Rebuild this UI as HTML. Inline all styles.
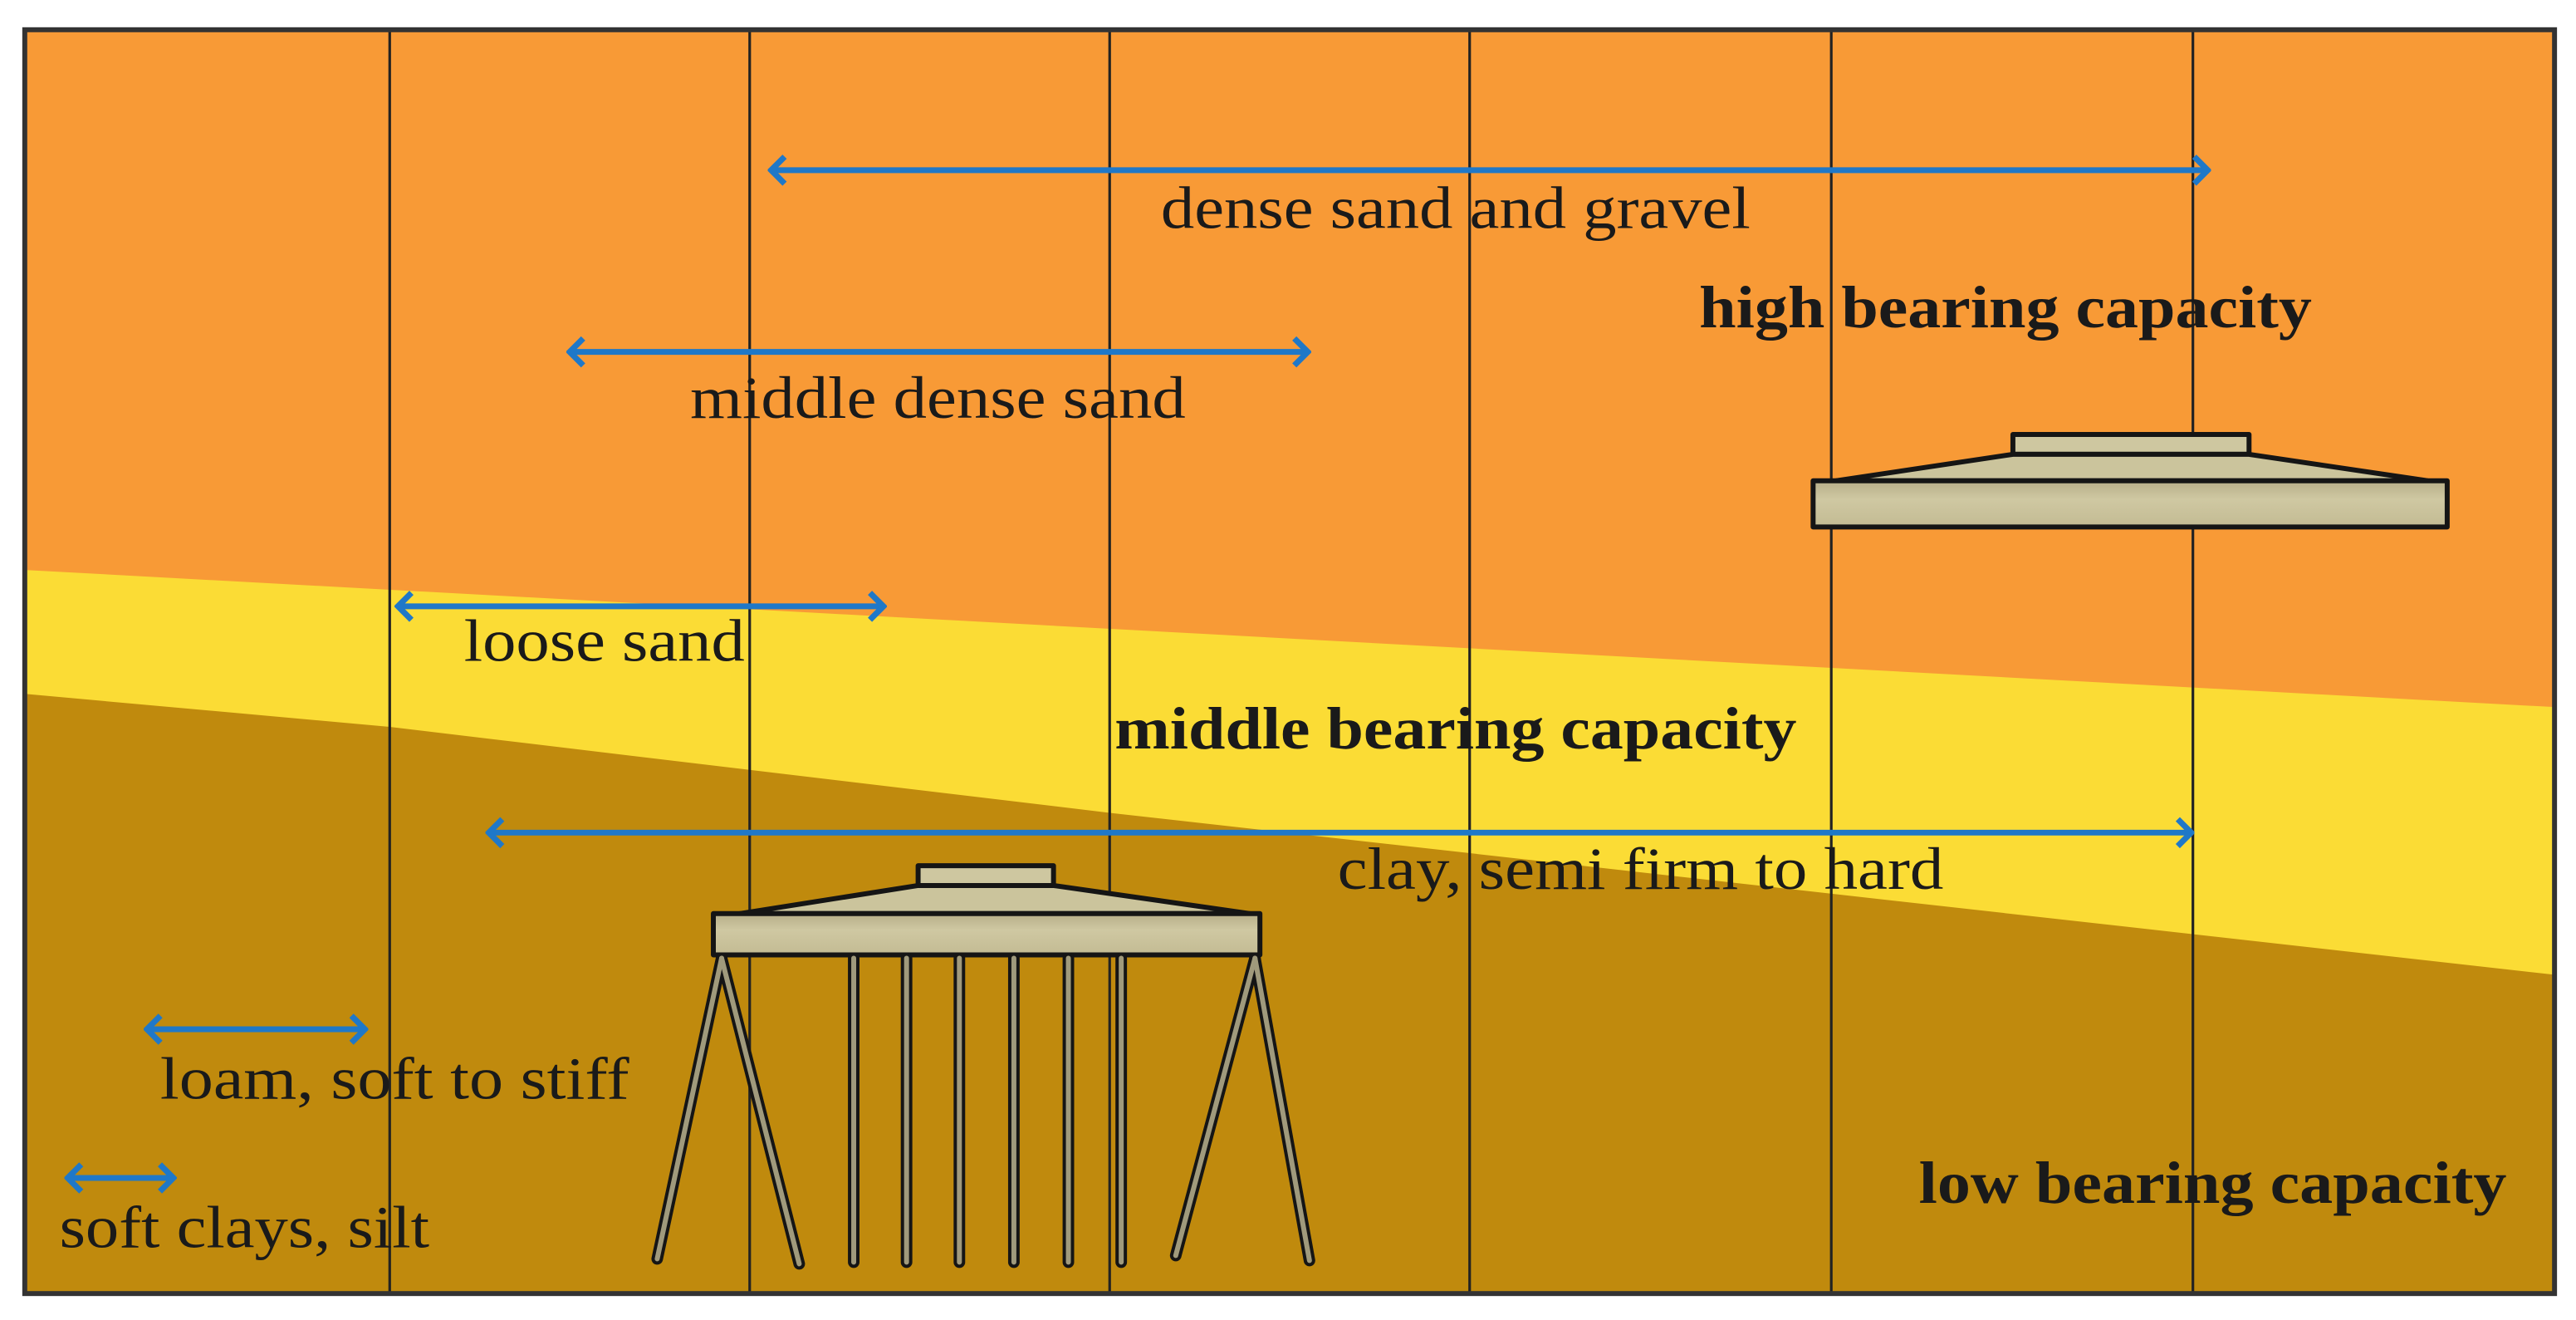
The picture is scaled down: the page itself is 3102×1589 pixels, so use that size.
<!DOCTYPE html>
<html><head><meta charset="utf-8"><style>
html,body{margin:0;padding:0;background:#fff;}
svg{display:block;}
text{font-family:"Liberation Serif",serif;fill:#1a1a1a;}
.b{font-weight:bold;}
</style></head><body>
<svg width="3102" height="1589" viewBox="0 0 1560 799" preserveAspectRatio="none" xmlns="http://www.w3.org/2000/svg">
<defs>
<linearGradient id="slab" x1="0" y1="0" x2="0" y2="1">
<stop offset="0" stop-color="#b6ad88"/><stop offset="0.4" stop-color="#cfc8a2"/><stop offset="1" stop-color="#c3bb93"/>
</linearGradient>
<marker id="ah" viewBox="0 0 12 20" refX="10" refY="10" markerWidth="3.5" markerHeight="6" orient="auto-start-reverse" markerUnits="strokeWidth">
<path d="M2,2 L10,10 L2,18" fill="none" stroke="#1f78c8" stroke-width="3.5" stroke-linejoin="miter"/>
</marker>
</defs>
<rect x="0" y="0" width="1560" height="799" fill="#fff"/>
<rect x="15" y="18" width="1532" height="765" fill="#f89a36"/>
<polygon points="15,345 1547,428 1547,783 15,783" fill="#fbdc35"/>
<polygon points="15,420 236,440 672,492 1547,590 1547,783 15,783" fill="#c08a0d"/>
<g stroke="#222" stroke-width="1.6">
<line x1="236" y1="18" x2="236" y2="783"/><line x1="454" y1="18" x2="454" y2="783"/>
<line x1="672" y1="18" x2="672" y2="783"/><line x1="890" y1="18" x2="890" y2="783"/>
<line x1="1109" y1="18" x2="1109" y2="783"/><line x1="1328" y1="18" x2="1328" y2="783"/>
</g>
<rect x="15" y="18" width="1532" height="765" fill="none" stroke="#333" stroke-width="3"/>
<g stroke="#1f78c8" stroke-width="3.5" fill="none" marker-start="url(#ah)" marker-end="url(#ah)">
<line x1="467" y1="103" x2="1337" y2="103"/>
<line x1="345" y1="213" x2="792" y2="213"/>
<line x1="241" y1="367" x2="535" y2="367"/>
<line x1="296" y1="504" x2="1327" y2="504"/>
<line x1="89" y1="623" x2="221" y2="623"/>
<line x1="41" y1="713" x2="105" y2="713"/>
</g>
<text x="703" y="138" font-size="36" textLength="357" lengthAdjust="spacingAndGlyphs">dense sand and gravel</text>
<text class="b" x="1029" y="198" font-size="36" textLength="371" lengthAdjust="spacingAndGlyphs">high bearing capacity</text>
<text x="418" y="253" font-size="36" textLength="300" lengthAdjust="spacingAndGlyphs">middle dense sand</text>
<text x="281" y="400" font-size="36" textLength="170" lengthAdjust="spacingAndGlyphs">loose sand</text>
<text class="b" x="675" y="453" font-size="36" textLength="413" lengthAdjust="spacingAndGlyphs">middle bearing capacity</text>
<text x="810" y="538" font-size="36" textLength="367" lengthAdjust="spacingAndGlyphs">clay, semi firm to hard</text>
<text x="97" y="665" font-size="36" textLength="284" lengthAdjust="spacingAndGlyphs">loam, soft to stiff</text>
<text x="36" y="755" font-size="36" textLength="224" lengthAdjust="spacingAndGlyphs">soft clays, silt</text>
<text class="b" x="1162" y="728" font-size="36" textLength="356" lengthAdjust="spacingAndGlyphs">low bearing capacity</text>
<g stroke="#151515" stroke-width="3" stroke-linejoin="round">
<rect x="1219" y="263" width="143" height="12" fill="#cec7a0"/>
<polygon points="1112,291 1219,275 1362,275 1470,291" fill="#cbc49c"/>
<rect x="1098" y="291" width="384" height="28" fill="url(#slab)"/>
</g>
<g stroke="#151515" stroke-width="3" stroke-linejoin="round">
<rect x="556" y="524" width="82" height="12" fill="#cec7a0"/>
<polygon points="448,553 556,536 638,536 757,553" fill="#cbc49c"/>
<rect x="432" y="553" width="331" height="25" fill="url(#slab)"/>
</g>
<g stroke="#151515" stroke-width="7" stroke-linecap="round">
<line x1="517" y1="580" x2="517" y2="764"/><line x1="549" y1="580" x2="549" y2="764"/>
<line x1="581" y1="580" x2="581" y2="764"/><line x1="614" y1="580" x2="614" y2="764"/>
<line x1="647" y1="580" x2="647" y2="764"/><line x1="679" y1="580" x2="679" y2="764"/>
<line x1="437" y1="580" x2="398" y2="762"/><line x1="437" y1="580" x2="484" y2="765"/>
<line x1="760" y1="580" x2="712" y2="760"/><line x1="760" y1="580" x2="793" y2="763"/>
</g>
<g stroke="#a09a7c" stroke-width="3" stroke-linecap="round">
<line x1="517" y1="580" x2="517" y2="764"/><line x1="549" y1="580" x2="549" y2="764"/>
<line x1="581" y1="580" x2="581" y2="764"/><line x1="614" y1="580" x2="614" y2="764"/>
<line x1="647" y1="580" x2="647" y2="764"/><line x1="679" y1="580" x2="679" y2="764"/>
<line x1="437" y1="580" x2="398" y2="762"/><line x1="437" y1="580" x2="484" y2="765"/>
<line x1="760" y1="580" x2="712" y2="760"/><line x1="760" y1="580" x2="793" y2="763"/>
</g>
</svg>
</body></html>
